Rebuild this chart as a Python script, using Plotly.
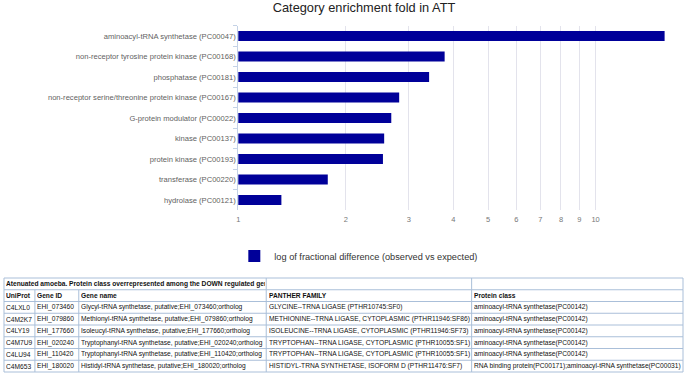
import math
import plotly.graph_objects as go

# ---------------- data ----------------
chart_title = "Category enrichment fold in ATT"
series_name = "log of fractional difference (observed vs expected)"
categories = [
    "aminoacyl-tRNA synthetase (PC00047)",
    "non-receptor tyrosine protein kinase (PC00168)",
    "phosphatase (PC00181)",
    "non-receptor serine/threonine protein kinase (PC00167)",
    "G-protein modulator (PC00022)",
    "kinase (PC00137)",
    "protein kinase (PC00193)",
    "transferase (PC00220)",
    "hydrolase (PC00121)",
]
fold_values = [15.6, 3.78, 3.42, 2.82, 2.68, 2.56, 2.54, 1.78, 1.32]
x_tick_values = [1, 2, 3, 4, 5, 6, 7, 8, 9, 10]
x_tick_labels = ["1", "2", "3", "4", "5", "6", "7", "8", "9", "10"]

table_title = "Atenuated amoeba. Protein class overrepresented among the DOWN regulated genes"
table_columns = ["UniProt", "Gene ID", "Gene name", "PANTHER FAMILY", "Protein class"]
uniprot_ids = ["C4LXL0", "C4M2K7", "C4LY19", "C4M7U9", "C4LU94", "C4M653"]
gene_ids = ["EHI_073460", "EHI_079860", "EHI_177660", "EHI_020240", "EHI_110420", "EHI_180020"]
gene_names = [
    "Glycyl-tRNA synthetase, putative;EHI_073460;ortholog",
    "Methionyl-tRNA synthetase, putative;EHI_079860;ortholog",
    "Isoleucyl-tRNA synthetase, putative;EHI_177660;ortholog",
    "Tryptophanyl-tRNA synthetase, putative;EHI_020240;ortholog",
    "Tryptophanyl-tRNA synthetase, putative;EHI_110420;ortholog",
    "Histidyl-tRNA synthetase, putative;EHI_180020;ortholog",
]
panther_families = [
    "GLYCINE--TRNA LIGASE (PTHR10745:SF0)",
    "METHIONINE--TRNA LIGASE, CYTOPLASMIC (PTHR11946:SF86)",
    "ISOLEUCINE--TRNA LIGASE, CYTOPLASMIC (PTHR11946:SF73)",
    "TRYPTOPHAN--TRNA LIGASE, CYTOPLASMIC (PTHR10055:SF1)",
    "TRYPTOPHAN--TRNA LIGASE, CYTOPLASMIC (PTHR10055:SF1)",
    "HISTIDYL-TRNA SYNTHETASE, ISOFORM D (PTHR11476:SF7)",
]
protein_classes = [
    "aminoacyl-tRNA synthetase(PC00142)",
    "aminoacyl-tRNA synthetase(PC00142)",
    "aminoacyl-tRNA synthetase(PC00142)",
    "aminoacyl-tRNA synthetase(PC00142)",
    "aminoacyl-tRNA synthetase(PC00142)",
    "RNA binding protein(PC00171);aminoacyl-tRNA synthetase(PC00031)",
]

# ---------------- layout constants ----------------
W, H = 685, 374
FONT = "Arial, Liberation Sans, sans-serif"
BAR_COLOR = "#000099"
GRID = "#e3e3ec"
AXIS = "#c4d2e6"
TABLE_LINE = "#aabfd9"

col_widths = [31, 44, 188, 206, 212]
table_left, table_top, row_h = 2, 278, 11.75

def py(p):  # pixel-from-top to paper
    return 1 - p / H

fig = go.Figure()
fig.add_trace(go.Bar(
    y=categories, x=fold_values, orientation="h",
    marker=dict(color=BAR_COLOR, line=dict(width=0)),
    name=series_name, showlegend=True, hoverinfo="x+y",
))

# invisible helper trace for the table axes
n_rows = 2 + len(uniprot_ids)
total_w = sum(col_widths)
fig.add_trace(go.Scatter(x=[0, total_w], y=[0, n_rows], xaxis="x2", yaxis="y2",
                         mode="markers", marker=dict(opacity=0), showlegend=False,
                         hoverinfo="skip"))

pad = 1.0
x2_dom = [(table_left - pad) / W, (table_left + total_w + pad) / W]
y2_top = table_top - 0.1 * row_h
y2_bot = table_top + (n_rows + 0.1) * row_h

fig.update_layout(
    width=W, height=H,
    margin=dict(l=0, r=0, t=0, b=0),
    paper_bgcolor="white", plot_bgcolor="white",
    font=dict(family=FONT, color="#444"),
    bargap=0.52,
    title=dict(text=chart_title, x=364 / W, xanchor="center", y=py(8), yanchor="middle",
               font=dict(family=FONT, size=12.8, color="#222")),
    xaxis=dict(domain=[237 / W, 677 / W], type="log", range=[0, math.log10(16.9)],
               tickvals=x_tick_values, ticktext=x_tick_labels, showgrid=True,
               gridcolor=GRID, gridwidth=1, ticks="", showline=False, zeroline=False,
               tickfont=dict(size=7.5, color="#777"), ticklabelstandoff=3, anchor="y"),
    yaxis=dict(domain=[py(210.25), py(25.75)], autorange="reversed", showgrid=False,
               showline=True, linecolor=AXIS, linewidth=1, ticks="outside",
               tickson="boundaries", ticklen=4, tickcolor=AXIS,
               tickfont=dict(size=7.6, color="#5f5f5f"), anchor="x"),
    xaxis2=dict(domain=x2_dom, range=[-pad, total_w + pad], visible=False,
                fixedrange=True, anchor="y2"),
    yaxis2=dict(domain=[py(y2_bot), py(y2_top)], range=[n_rows + 0.1, -0.1],
                visible=False, fixedrange=True, anchor="x2"),
    legend=dict(orientation="h", x=233 / W, xanchor="left", y=py(256), yanchor="middle",
                font=dict(size=9.2, color="#333"), bgcolor="rgba(0,0,0,0)", borderwidth=0),
)

# ---------------- table ----------------
edges = [0]
for w in col_widths:
    edges.append(edges[-1] + w)

shapes = []
def hline(y):
    shapes.append(dict(type="line", xref="x2", yref="y2", x0=0, x1=total_w, y0=y, y1=y,
                       line=dict(color=TABLE_LINE, width=1)))
def vline(x, y0, y1):
    shapes.append(dict(type="line", xref="x2", yref="y2", x0=x, x1=x, y0=y0, y1=y1,
                       line=dict(color=TABLE_LINE, width=1)))

for r in range(n_rows + 1):
    hline(r)
# title row: merged first three columns
for x in [edges[0], edges[3], edges[4], edges[5]]:
    vline(x, 0, 1)
for x in edges:
    vline(x, 1, n_rows)

annotations = []
def cell(text, col_start, col_end, row, bold=False):
    x0 = edges[col_start]
    w = edges[col_end] - x0
    annotations.append(dict(
        xref="x2", yref="y2", x=x0 + 1.5, y=row + 0.5, xanchor="left", yanchor="middle",
        text=f"<b>{text}</b>" if bold else text, showarrow=False, align="left",
        width=w - 4, borderpad=0,
        font=dict(family=FONT, size=6.65, color="#111"),
    ))

cell(table_title, 0, 3, 0, bold=True)
for c, name in enumerate(table_columns):
    cell(name, c, c + 1, 1, bold=True)
rows = list(zip(uniprot_ids, gene_ids, gene_names, panther_families, protein_classes))
for r, vals in enumerate(rows):
    for c, v in enumerate(vals):
        cell(v, c, c + 1, r + 2)

fig.update_layout(shapes=shapes, annotations=annotations)
fig.write_html("out.html", config={"displayModeBar": False},
               post_script="document.body.style.margin='0px';")
